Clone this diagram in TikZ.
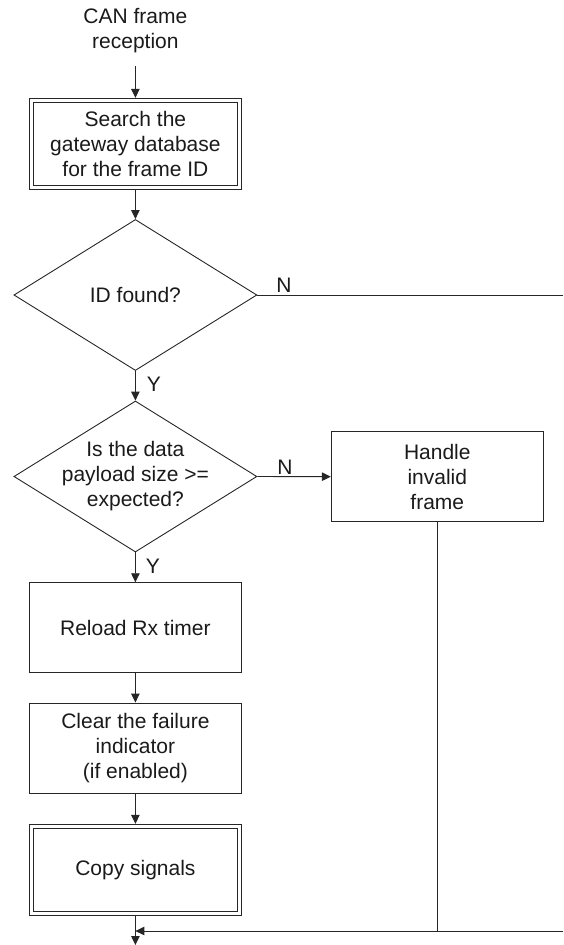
\documentclass[tikz,border=0pt]{standalone}
\usepackage{fontspec}
\setmainfont{Liberation Sans}
\usetikzlibrary{shapes.geometric,arrows.meta}
\definecolor{ink}{HTML}{262626}
\definecolor{txt}{HTML}{1A1A1A}
\begin{document}
\begin{tikzpicture}[x=1pt,y=-1pt,
  every node/.style={font=\fontsize{21}{25}\selectfont, text=txt, align=center},
  box/.style={draw=ink, line width=0.9pt, minimum width=212pt, minimum height=90pt, inner sep=0pt},
  % predefined process: outer frame plus an inner frame 4pt inside
  dbox/.style={box, minimum height=91pt,
    path picture={\draw[ink, line width=0.9pt]
      ([shift={(4pt,-4pt)}]path picture bounding box.north west) rectangle
      ([shift={(-4pt,4pt)}]path picture bounding box.south east);}},
  decision/.style={diamond, draw=ink, line width=0.9pt, minimum width=243pt,
                   minimum height=151pt, inner sep=0pt},
  flow/.style={draw=ink, line width=0.9pt},
  arr/.style={flow, -{Triangle[length=9pt,width=8.5pt]}}
]
\useasboundingbox (0,0) rectangle (563,945);

% process steps
\node[minimum height=70pt, inner sep=0pt] (title) at (135.4,31) {CAN frame\\reception};
\node[dbox] (search) at (135.4,143.8) {Search the\\gateway database\\for the frame ID};
\node[decision] (found) at (135.4,295) {};
\node (foundtxt) at (found.center) {ID found?};
\node[decision] (size) at (135.4,476.5) {};
\node (sizetxt) at (size.center) {Is the data\\payload size >=\\expected?};
\node[box] (invalid) at (437.3,476.7) {Handle\\invalid\\frame};
\node[box] (reload) at (135.4,627.7) {Reload Rx timer};
\node[box] (clear) at (135.4,748) {Clear the failure\\indicator\\(if enabled)};
\node[dbox] (copy) at (135.4,869.8) {Copy signals};

% free ends of the connectors
\coordinate (edgeN) at (563,295);
\coordinate (join) at (563,931);
\coordinate (exit) at (135.4,945);

% connectors
\draw[arr] (title.south) -- (search.north);
\draw[arr] (search.south) -- (found.north);
\draw[flow] (found.east) -- (edgeN);
\draw[arr] (found.south) -- (size.north);
\draw[arr] (size.east) -- (invalid.west);
\draw[arr] (size.south) -- (reload.north);
\draw[arr] (reload.south) -- (clear.north);
\draw[arr] (clear.south) -- (copy.north);
\draw[flow] (invalid.south) -- (invalid.south |- join);
\draw[arr] (join) -- (copy.south |- join);
\draw[arr] (copy.south) -- (exit);

% branch labels
\node (n1) at (284,285) {N};
\node (y1) at (154,384) {Y};
\node (n2) at (285,467) {N};
\node (y2) at (153,566) {Y};
\end{tikzpicture}
\end{document}
